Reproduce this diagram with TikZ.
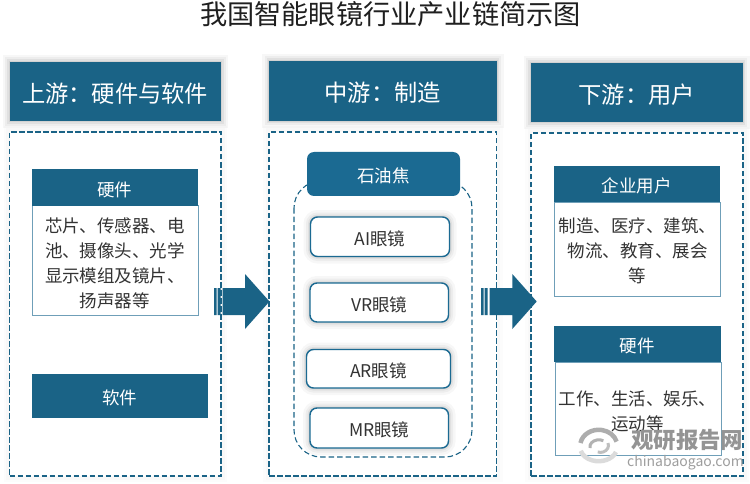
\documentclass[tikz,border=0pt]{standalone}
\usepackage{fontspec}
\setmainfont{Noto Sans CJK SC}
\usetikzlibrary{shapes.geometric}
\definecolor{hdr}{HTML}{1A6386}
\definecolor{hdrb}{HTML}{1B6A92}
\definecolor{lineb}{HTML}{6F9FB8}
\definecolor{inkt}{HTML}{333333}
\newcommand{\dn}[1]{\raisebox{-2pt}[\height][\depth]{#1}}
\tikzset{
  wh/.style 2 args={minimum width=#1pt,minimum height=#2pt},
  softshadow/.style={
    preaction={draw=black,solid,draw opacity=.03,line width=14pt},
    preaction={draw=black,solid,draw opacity=.04,line width=9pt},
    preaction={draw=black,solid,draw opacity=.05,line width=5pt},
    preaction={draw=black,solid,draw opacity=.06,line width=2pt}},
  lightshadow/.style={
    preaction={draw=black,solid,draw opacity=.012,line width=12pt},
    preaction={draw=black,solid,draw opacity=.015,line width=7pt}},
  box/.style={rectangle,inner sep=0pt,outer sep=0pt,anchor=north west},
  header/.style={box,fill=hdr,text=white,font=\fontsize{23.25}{23.25}\selectfont,softshadow},
  dashbox/.style={box,draw=hdr,line width=1.8pt,dash pattern=on 5.5pt off 2.5pt,fill=white,lightshadow},
  subhead/.style={box,fill=hdr,text=white,font=\fontsize{17.5}{17.5}\selectfont},
  bodybox/.style={box,draw=lineb,line width=1pt,fill=white},
  bodytext/.style={text=inkt,font=\fontsize{17.5}{25}\selectfont,align=center,inner sep=0pt},
  pill/.style={box,draw=hdrb,line width=1.4pt,fill=white,rounded corners=7pt,text=inkt,font=\fontsize{17.5}{17.5}\selectfont,softshadow},
  bigarrow/.style={fill=hdr,draw=none},
}
\begin{document}
\begin{tikzpicture}[x=1pt,y=-1pt]
\useasboundingbox (0,0) rectangle (750,484);
\fill[white] (0,0) rectangle (750,484);
\node[text=black!88,font=\fontsize{27.2}{28}\selectfont,inner sep=0pt] (title) at (390.5,14.5) {我国智能眼镜行业产业链简示图};
% headers
\node[header,wh={211.5}{59.5}] (h1) at (9.5,62) {\dn{上游：硬件与软件}};
\node[header,wh={227.7}{60}] (h2) at (269,61) {\dn{中游：制造}};
\node[header,wh={212}{59.5}] (h3) at (530.7,63) {\dn{下游：用户}};
% dashed panels
\node[dashbox,wh={211.5}{344}] (p1) at (9.5,132) {};
\node[dashbox,wh={227.5}{344}] (p2) at (269,132) {};
\node[dashbox,wh={212}{343}] (p3) at (531,133) {};
% left
\node[bodybox,wh={166.5}{110}] (hwb) at (32,205.5) {};
\node[bodytext] (hwt) at (115,263) {芯片、传感器、电\\池、摄像头、光学\\显示模组及镜片、\\扬声器等};
\node[subhead,wh={166.5}{36}] (hw) at (31.5,169.5) {\dn{硬件}};
\node[subhead,wh={176.5}{44}] (sw) at (31.5,374) {\dn{软件}};
% middle
\draw[hdr,line width=1.1pt,dash pattern=on 5.5pt off 3pt,rounded corners=27pt] (294,181) rectangle (472,457);
\node[box,fill=hdrb,rounded corners=7pt,text=white,font=\fontsize{17.5}{17.5}\selectfont,wh={153}{44}] (coke) at (307,152) {\dn{石油焦}};
\node[pill,wh={139}{39.5}] (ai) at (310.5,217) {\dn{AI眼镜}};
\node[pill,wh={138.5}{39}] (vr) at (310,283) {\dn{VR眼镜}};
\node[pill,wh={144}{38.5}] (ar) at (306.5,349.5) {\dn{AR眼镜}};
\node[pill,wh={138.5}{40}] (mr) at (310,408) {\dn{MR眼镜}};
% right
\node[bodybox,wh={166}{94}] (eub) at (554.5,202) {};
\node[bodytext] (eut) at (637.5,251) {制造、医疗、建筑、\\物流、教育、展会\\等};
\node[subhead,wh={166.5}{36}] (eu) at (553.7,166) {\dn{企业用户}};
\node[bodybox,wh={166}{93}] (hw2b) at (555.5,362) {};
\node[bodytext] (hw2t) at (637.5,411) {工作、生活、娱乐、\\运动等};
\node[subhead,wh={166.7}{36}] (hw2) at (554,325.7) {\dn{硬件}};
% arrows
\fill[bigarrow] (214,288) rectangle (216.5,315) (217.5,288) rectangle (220.5,315);
\fill[bigarrow] (222.5,288) -- (245,288) -- (245,274) -- (269.5,301.5) -- (245,329) -- (245,315) -- (222.5,315) -- cycle;
\fill[bigarrow] (481,288) rectangle (483.5,315) (484.5,288) rectangle (487.5,315);
\fill[bigarrow] (489.5,288) -- (512.3,288) -- (512.3,274) -- (536.7,301.5) -- (512.3,329) -- (512.3,315) -- (489.5,315) -- cycle;
% watermark
\node[text=black!42,font=\fontsize{22.4}{23}\bfseries\selectfont,inner sep=0pt,anchor=west] (wm) at (631,440.5) {观研报告网};
\node[text=black!38,font=\fontsize{14}{14}\selectfont,inner sep=0pt,anchor=west] (wm2) at (627,462.5) {chinabaogao.com};
\draw[black!32,line width=4.5pt] (580.5,443) arc (190:345:18.5 and 16);
\draw[black!14,line width=4.5pt] (616,452) arc (20:165:18.5 and 14);
\draw[black!30,line width=3pt] (590,448) arc (170:300:9 and 7);
\draw[black!25,line width=3pt] (608,443) arc (-20:110:8 and 7);
\end{tikzpicture}
\end{document}
